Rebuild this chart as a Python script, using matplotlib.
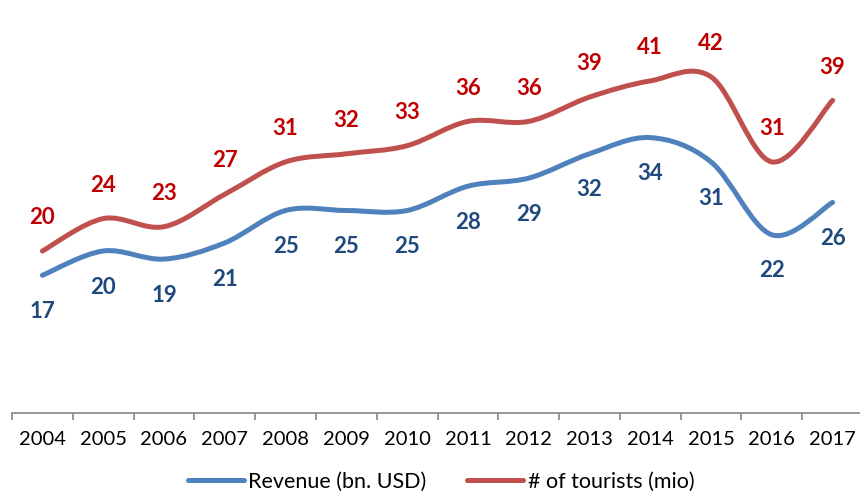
import numpy as np
import matplotlib.pyplot as plt
from matplotlib.path import Path
from matplotlib.patches import PathPatch
from matplotlib.lines import Line2D

years = ['2004', '2005', '2006', '2007', '2008', '2009', '2010',
         '2011', '2012', '2013', '2014', '2015', '2016', '2017']
revenue = [17, 20, 19, 21, 25, 25, 25, 28, 29, 32, 34, 31, 22, 26]
tourists = [20, 24, 23, 27, 31, 32, 33, 36, 36, 39, 41, 41.5, 31, 38.6]

blue = '#4F81BD'
red = '#C0504D'
blue_lbl = '#1F497D'
red_lbl = '#C00000'

plt.rcParams['font.family'] = ['Lato', 'DejaVu Sans']


def smooth_path(xs, ys):
    # excel-style smoothed line: bezier segments with catmull-rom control points
    pts = np.column_stack([xs, ys]).astype(float)
    n = len(pts)
    verts = [pts[0]]
    codes = [Path.MOVETO]
    for i in range(n - 1):
        p0 = pts[max(i - 1, 0)]
        p1 = pts[i]
        p2 = pts[i + 1]
        p3 = pts[min(i + 2, n - 1)]
        c1 = p1 + (p2 - p0) / 6
        c2 = p2 - (p3 - p1) / 6
        verts += [c1, c2, p2]
        codes += [Path.CURVE4] * 3
    return Path(verts, codes)


def lbl(v):
    # labels show whole numbers, rounded half up like excel
    return str(int(v + 0.5))


fig = plt.figure(figsize=(8.6, 4.95), dpi=100)
ax = fig.add_axes([12 / 860, 82 / 495, 851 / 860, 405 / 495])

x = np.arange(len(years))
for vals, col in [(revenue, blue), (tourists, red)]:
    ax.add_patch(PathPatch(smooth_path(x, vals), fill=False, edgecolor=col,
                           lw=3.6, capstyle='round', joinstyle='round'))

for i, v in enumerate(revenue):
    ax.annotate(lbl(v), (x[i], v), xytext=(0, -26), textcoords='offset points',
                ha='center', va='center', color=blue_lbl, fontsize=16, fontweight='bold')
for i, v in enumerate(tourists):
    ax.annotate(lbl(v), (x[i], v), xytext=(0, 24), textcoords='offset points',
                ha='center', va='center', color=red_lbl, fontsize=16, fontweight='bold')

ax.set_xlim(-0.5, len(years) - 0.5)
ax.set_ylim(0, 50)
for s in ['top', 'right', 'left']:
    ax.spines[s].set_visible(False)
ax.spines['bottom'].set_color('#868686')
ax.spines['bottom'].set_linewidth(1.2)
ax.set_yticks([])
ax.set_xticks(np.arange(len(years) + 1) - 0.5)
ax.set_xticklabels([])
ax.tick_params(axis='x', which='major', length=5, width=1.2, color='#868686')
ax.set_xticks(x, minor=True)
ax.set_xticklabels(years, minor=True)
ax.tick_params(axis='x', which='minor', length=0, pad=13, labelsize=14.5, labelcolor='black')

handles = [Line2D([], [], color=blue, lw=3.6, solid_capstyle='round'),
           Line2D([], [], color=red, lw=3.6, solid_capstyle='round')]
fig.legend(handles, ['Revenue (bn. USD)', '# of tourists (mio)'], loc='center',
           bbox_to_anchor=(0.513, 13 / 495), ncol=2, frameon=False, fontsize=15.5,
           handlelength=2.6, handletextpad=0.2, columnspacing=1.9)

fig.savefig('out.png', dpi=100)
